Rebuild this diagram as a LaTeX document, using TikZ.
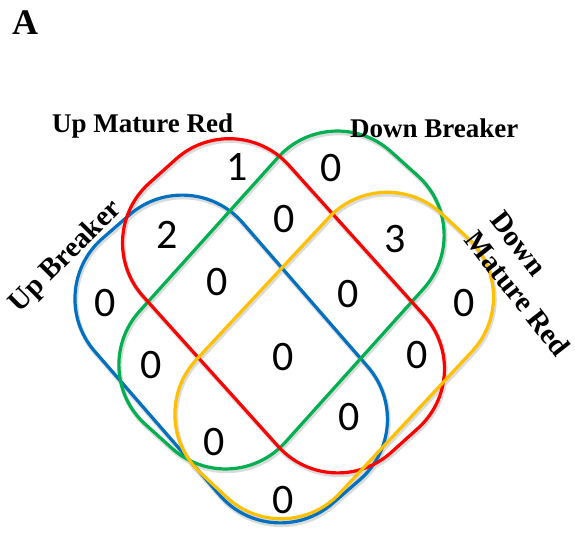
\documentclass[tikz,border=0pt]{standalone}
\usepackage{fontspec}
\setmainfont{Liberation Serif}
\newfontfamily\numfont{Carlito}
\definecolor{setblue}{RGB}{0,112,192}
\definecolor{setred}{RGB}{255,0,0}
\definecolor{setgreen}{RGB}{0,176,80}
\definecolor{setyellow}{RGB}{255,192,0}

\begin{document}
\begin{tikzpicture}[x=1pt,y=1pt,
    setline/.style={line width=3.2pt, rounded corners=80pt},
    setshadow/.style={draw=black!14, line width=4.5pt, rounded corners=80pt},
    setname/.style={inner sep=0pt, font=\bfseries\fontsize{27}{31}\selectfont},
    tiltname/.style={setname, font=\bfseries\fontsize{29}{32}\selectfont},
    num/.style={inner sep=0pt, font=\numfont\fontsize{42}{42}\selectfont}]
  \useasboundingbox (0,0) rectangle (575,535);

  % panel letter
  \node[inner sep=0pt, anchor=base west, font=\bfseries\fontsize{36}{36}\selectfont] (panel) at (12,500) {A};

  % soft shadow under the four sets
  \foreach \cx/\cy/\ang/\len in {231.2/176/-49/351, 281.5/235/48/367,
                                 283.5/229.2/-48/362, 334.2/179.5/47/354}
    \draw[setshadow, shift={(\cx+1,\cy-2)}, rotate=\ang] (-\len/2,-98) rectangle (\len/2,98);

  % sets: up breaker, down breaker, up mature red, down mature red
  \foreach \cx/\cy/\ang/\len/\clr in {231.2/176/-49/351/setblue, 281.5/235/48/367/setgreen,
                                      283.5/229.2/-48/362/setred, 334.2/179.5/47/354/setyellow}
    \draw[setline, draw=\clr, shift={(\cx,\cy)}, rotate=\ang] (-\len/2,-98) rectangle (\len/2,98);

  % set names
  \node[setname, anchor=base west] (upmature) at (52,402) {Up Mature Red};
  \node[setname, anchor=base west] (downbreaker) at (350,397) {Down Breaker};
  \node[tiltname, rotate=45] (upbreaker) at (66,278) {Up Breaker};
  \node[tiltname, rotate=-52, align=left] (downmature) at (530,251) {Down\\Mature Red};

  % counts in each region
  \foreach \x/\y/\v [count=\k] in {237/368/1, 331/367/0, 167/300/2, 284/316/0, 395/296/3,
                                   105/232/0, 217/253/0, 348/241/0, 464/232/0,
                                   151/170/0, 283/178/0, 417/180/0,
                                   214/93/0, 349/118/0, 283/35/0}
    \node[num] (n\k) at (\x,\y) {\v};
\end{tikzpicture}
\end{document}
